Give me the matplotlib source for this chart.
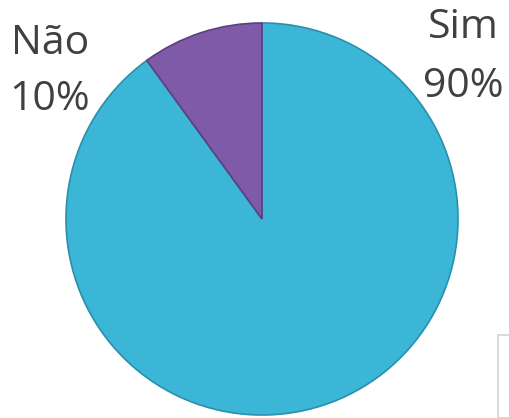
import matplotlib
matplotlib.use("Agg")
import matplotlib.pyplot as plt
from matplotlib.patches import Rectangle

categories = ["Sim", "Não"]
values = [90, 10]
colors = ["#3BB6D7", "#7E5AA8"]
edge_colors = ["#2A8FAD", "#5B3F80"]

W, H = 510, 418
fig = plt.figure(figsize=(W / 100, H / 100), dpi=100)
fig.patch.set_facecolor("white")

cx, cy, r = 262, 219, 197
ax = fig.add_axes([(cx - r) / W, (H - cy - r) / H, 2 * r / W, 2 * r / H])
wedges, _ = ax.pie(values, colors=colors, startangle=90, counterclock=False,
                   radius=1.0, wedgeprops=dict(linewidth=1.2))
for w, ec in zip(wedges, edge_colors):
    w.set_edgecolor(ec)
ax.set_xlim(-1.005, 1.005)
ax.set_ylim(-1.005, 1.005)
ax.set_aspect("equal")
ax.axis("off")

font = ["Open Sans", "DejaVu Sans"]
tc = "#404040"
fs = 29.5
# label positions (pixel centers, baselines)
label_pos = {"Não": (50, 54, 110), "Sim": (463, 38, 97)}
for cat, val in zip(categories, values):
    x, b1, b2 = label_pos[cat]
    fig.text(x / W, 1 - b1 / H, cat, ha="center", va="baseline",
             fontsize=fs, color=tc, family=font)
    fig.text(x / W, 1 - b2 / H, f"{val}%", ha="center", va="baseline",
             fontsize=fs, color=tc, family=font)

# partial frame in bottom-right corner
fig.patches.append(Rectangle((498 / W, 0), 0.2, (418 - 335) / H,
                             transform=fig.transFigure, fill=False,
                             edgecolor="#D4D4D4", linewidth=1.2))

fig.savefig("out.png", dpi=100)
